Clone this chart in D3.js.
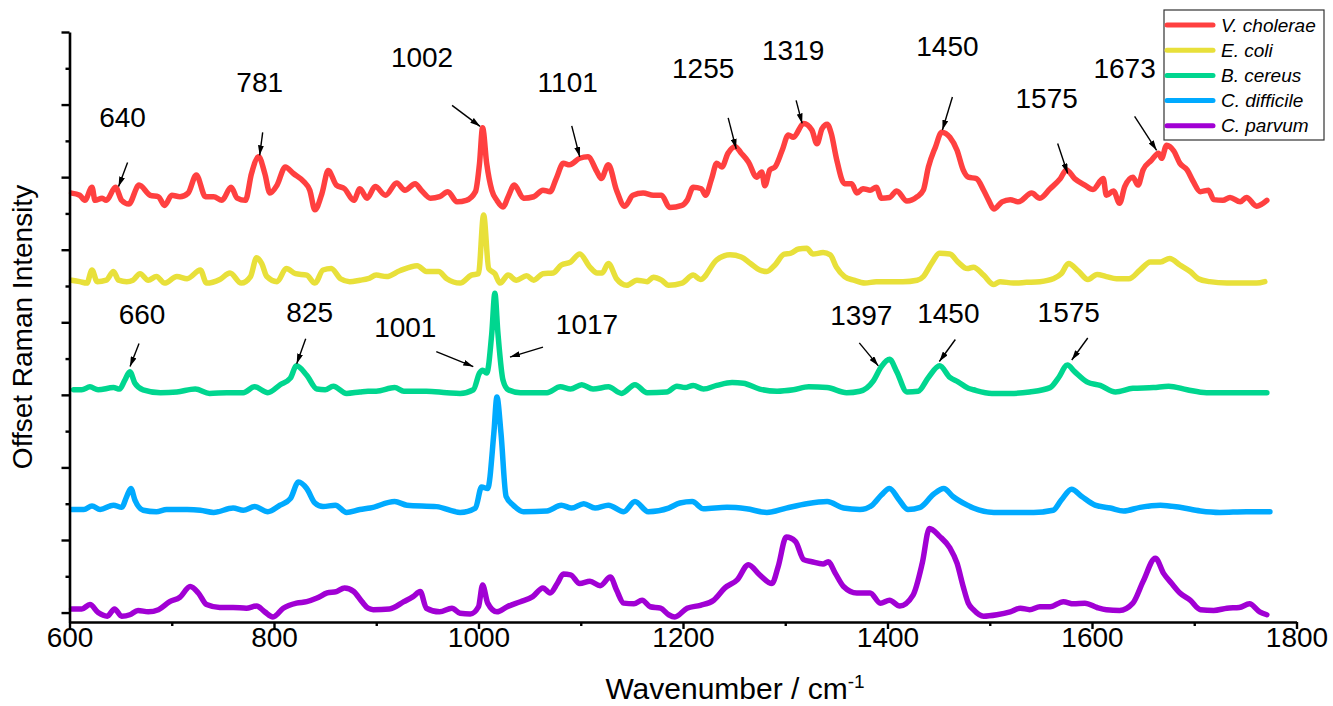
<!DOCTYPE html>
<html>
<head>
<meta charset="utf-8">
<script src="https://cdn.jsdelivr.net/npm/d3@7"></script>
<style>
body { margin: 0; background: #fff; }
text { font-family: "Liberation Sans", Arial, sans-serif; fill: #000; }
</style>
</head>
<body>
<div id="chart-area"></div>
<script>
// spectra: [wavenumber (cm-1), offset Raman intensity]
var cholerae = [[602,5.78],[610,5.75],[615,5.68],[622,5.86],[625,5.68],[632,5.71],[636,5.68],[645,5.86],[651,5.68],[658,5.63],[668,5.89],[679,5.75],[687,5.73],[693,5.61],[700,5.75],[708,5.73],[716,5.78],[724,6.03],[733,5.73],[741,5.73],[749,5.68],[758,5.86],[764,5.71],[772,5.68],[778,6.05],[785,6.28],[791,6.05],[796,5.78],[803,5.89],[811,6.14],[819,6.05],[829,5.94],[835,5.82],[840,5.55],[847,5.78],[853,6.09],[861,5.89],[869,5.84],[878,5.68],[884,5.84],[891,5.71],[899,5.87],[909,5.75],[920,5.92],[928,5.82],[938,5.91],[944,5.82],[953,5.71],[962,5.73],[970,5.80],[979,5.66],[988,5.68],[997,5.80],[1001,6.19],[1004,6.68],[1008,6.19],[1013,5.82],[1018,5.68],[1024,5.59],[1029,5.73],[1035,5.89],[1044,5.71],[1054,5.73],[1063,5.82],[1070,5.80],[1076,5.98],[1083,6.19],[1089,6.17],[1099,6.26],[1107,6.28],[1116,6.07],[1120,5.98],[1127,6.17],[1135,5.82],[1143,5.60],[1151,5.75],[1161,5.78],[1171,5.75],[1179,5.75],[1187,5.58],[1199,5.61],[1204,5.68],[1210,5.86],[1218,5.84],[1222,5.75],[1228,5.98],[1233,6.19],[1238,6.14],[1244,6.33],[1251,6.42],[1257,6.33],[1264,6.21],[1272,6.00],[1277,6.07],[1280,5.88],[1285,6.10],[1290,6.14],[1297,6.37],[1303,6.58],[1308,6.55],[1318,6.74],[1326,6.65],[1331,6.46],[1336,6.67],[1341,6.73],[1345,6.60],[1350,6.26],[1358,5.91],[1365,5.91],[1370,5.78],[1376,5.84],[1383,5.82],[1389,5.86],[1394,5.71],[1402,5.72],[1409,5.81],[1419,5.67],[1429,5.73],[1435,5.82],[1440,6.14],[1447,6.42],[1453,6.62],[1461,6.55],[1468,6.37],[1474,6.10],[1479,6.00],[1487,5.98],[1494,5.82],[1499,5.68],[1504,5.56],[1512,5.66],[1520,5.69],[1528,5.66],[1541,5.78],[1549,5.71],[1559,5.84],[1569,5.98],[1575,6.10],[1583,5.98],[1593,5.89],[1601,5.83],[1611,5.98],[1614,5.75],[1621,5.81],[1627,5.64],[1632,5.87],[1640,6.00],[1645,5.89],[1650,6.10],[1658,6.23],[1665,6.33],[1668,6.26],[1673,6.44],[1680,6.36],[1686,6.19],[1693,6.10],[1699,5.94],[1706,5.80],[1714,5.82],[1719,5.69],[1728,5.68],[1735,5.72],[1745,5.66],[1751,5.72],[1761,5.60],[1771,5.68]];

var coli = [[602,4.58],[610,4.56],[617,4.54],[622,4.72],[627,4.56],[636,4.58],[643,4.70],[648,4.58],[656,4.56],[662,4.58],[669,4.67],[677,4.58],[685,4.63],[693,4.54],[705,4.63],[715,4.60],[728,4.72],[734,4.54],[747,4.59],[757,4.68],[768,4.54],[777,4.63],[783,4.89],[788,4.81],[793,4.63],[803,4.56],[812,4.74],[821,4.67],[832,4.65],[840,4.54],[848,4.72],[856,4.74],[865,4.60],[874,4.56],[884,4.58],[892,4.60],[900,4.65],[910,4.63],[923,4.71],[940,4.78],[949,4.70],[961,4.70],[969,4.60],[982,4.54],[993,4.65],[1000,4.67],[1005,5.48],[1010,4.74],[1016,4.67],[1021,4.54],[1029,4.65],[1037,4.58],[1047,4.64],[1054,4.58],[1063,4.67],[1073,4.68],[1081,4.79],[1090,4.83],[1099,4.94],[1109,4.76],[1116,4.68],[1121,4.68],[1127,4.81],[1135,4.60],[1145,4.51],[1155,4.58],[1165,4.56],[1171,4.62],[1179,4.58],[1186,4.51],[1199,4.54],[1210,4.65],[1217,4.59],[1233,4.86],[1246,4.93],[1257,4.90],[1266,4.81],[1275,4.72],[1282,4.70],[1290,4.79],[1299,4.94],[1305,4.95],[1313,5.01],[1321,5.02],[1327,4.94],[1337,4.96],[1344,4.93],[1350,4.76],[1358,4.63],[1367,4.58],[1378,4.54],[1389,4.56],[1402,4.56],[1415,4.56],[1429,4.58],[1435,4.63],[1443,4.81],[1451,4.95],[1461,4.94],[1469,4.83],[1478,4.74],[1484,4.76],[1494,4.65],[1504,4.52],[1510,4.56],[1523,4.54],[1536,4.55],[1549,4.56],[1562,4.60],[1570,4.67],[1577,4.81],[1587,4.70],[1596,4.59],[1605,4.66],[1614,4.63],[1624,4.60],[1636,4.60],[1647,4.72],[1657,4.83],[1667,4.83],[1676,4.88],[1686,4.79],[1696,4.70],[1704,4.60],[1715,4.56],[1732,4.54],[1748,4.54],[1761,4.54],[1769,4.56]];

var cereus = [[604,3.07],[612,3.07],[620,3.11],[628,3.07],[643,3.10],[649,3.08],[654,3.20],[659,3.32],[664,3.16],[672,3.07],[689,3.03],[705,3.04],[723,3.08],[737,3.02],[754,3.03],[770,3.03],[781,3.11],[794,3.03],[806,3.14],[816,3.23],[822,3.40],[832,3.27],[842,3.08],[850,3.07],[858,3.12],[871,3.02],[884,3.04],[892,3.05],[900,3.05],[918,3.10],[927,3.05],[949,3.05],[969,3.03],[982,3.02],[995,3.07],[1001,3.30],[1004,3.34],[1008,3.30],[1013,3.85],[1016,4.40],[1019,3.85],[1024,3.20],[1029,3.07],[1041,3.03],[1067,3.03],[1080,3.11],[1090,3.08],[1101,3.14],[1112,3.08],[1127,3.11],[1140,3.02],[1153,3.14],[1165,3.03],[1184,3.04],[1194,3.12],[1202,3.10],[1210,3.13],[1220,3.08],[1233,3.13],[1248,3.17],[1259,3.16],[1275,3.08],[1292,3.05],[1308,3.07],[1323,3.11],[1341,3.10],[1360,3.03],[1373,3.05],[1386,3.19],[1394,3.39],[1402,3.49],[1409,3.32],[1419,3.04],[1430,3.05],[1440,3.24],[1451,3.40],[1461,3.24],[1469,3.18],[1479,3.09],[1484,3.07],[1502,3.02],[1520,3.02],[1539,3.04],[1559,3.10],[1567,3.23],[1576,3.41],[1583,3.32],[1595,3.18],[1608,3.13],[1623,3.04],[1640,3.09],[1660,3.10],[1675,3.12],[1693,3.07],[1712,3.03],[1738,3.03],[1771,3.03]];

var difficile = [[602,1.42],[614,1.42],[622,1.47],[630,1.42],[643,1.48],[651,1.45],[656,1.60],[660,1.71],[664,1.55],[672,1.41],[685,1.39],[695,1.42],[715,1.42],[728,1.41],[741,1.38],[760,1.44],[770,1.41],[781,1.46],[794,1.39],[806,1.48],[816,1.57],[824,1.80],[832,1.71],[840,1.51],[848,1.46],[860,1.48],[871,1.38],[884,1.42],[894,1.44],[918,1.53],[930,1.48],[959,1.46],[982,1.38],[997,1.44],[1003,1.73],[1009,1.71],[1015,2.47],[1018,2.97],[1022,2.47],[1027,1.60],[1034,1.48],[1044,1.39],[1067,1.40],[1081,1.48],[1091,1.44],[1103,1.50],[1114,1.44],[1127,1.48],[1142,1.39],[1153,1.53],[1166,1.39],[1186,1.44],[1197,1.51],[1209,1.53],[1220,1.43],[1243,1.45],[1262,1.43],[1282,1.38],[1301,1.44],[1321,1.50],[1341,1.53],[1357,1.44],[1373,1.42],[1385,1.48],[1394,1.62],[1402,1.71],[1411,1.56],[1420,1.42],[1432,1.45],[1445,1.63],[1455,1.71],[1464,1.60],[1478,1.48],[1484,1.44],[1504,1.38],[1523,1.38],[1543,1.38],[1562,1.41],[1570,1.55],[1580,1.70],[1590,1.60],[1603,1.48],[1618,1.44],[1631,1.40],[1647,1.45],[1667,1.48],[1686,1.45],[1706,1.40],[1725,1.38],[1751,1.39],[1774,1.39]];

var parvum = [[602,0.05],[612,0.05],[620,0.11],[628,0.00],[637,-0.05],[644,0.05],[651,-0.05],[659,-0.03],[667,0.03],[677,0.01],[687,0.04],[698,0.15],[708,0.21],[718,0.36],[726,0.27],[734,0.11],[747,0.07],[760,0.07],[773,0.06],[783,0.09],[791,0.01],[799,-0.06],[809,0.06],[822,0.13],[832,0.15],[842,0.20],[852,0.27],[861,0.29],[869,0.34],[878,0.29],[886,0.15],[892,0.06],[897,0.04],[913,0.05],[927,0.15],[936,0.22],[943,0.29],[949,0.06],[962,0.01],[974,0.06],[982,-0.01],[992,-0.02],[1000,0.08],[1004,0.38],[1009,0.13],[1018,0.01],[1028,0.08],[1041,0.15],[1053,0.22],[1063,0.34],[1070,0.27],[1077,0.40],[1083,0.53],[1090,0.52],[1099,0.40],[1109,0.43],[1119,0.37],[1129,0.49],[1135,0.31],[1142,0.13],[1152,0.12],[1160,0.17],[1168,0.08],[1178,0.06],[1186,-0.03],[1192,-0.06],[1204,0.06],[1217,0.10],[1230,0.17],[1241,0.34],[1253,0.45],[1264,0.66],[1275,0.52],[1287,0.40],[1293,0.63],[1301,1.04],[1310,0.98],[1318,0.73],[1326,0.70],[1337,0.67],[1342,0.70],[1349,0.54],[1357,0.36],[1370,0.27],[1383,0.27],[1393,0.13],[1402,0.17],[1412,0.09],[1425,0.24],[1434,0.68],[1441,1.16],[1451,1.05],[1461,0.89],[1468,0.68],[1474,0.36],[1479,0.13],[1484,0.04],[1494,-0.05],[1507,-0.03],[1520,0.01],[1530,0.06],[1539,0.04],[1549,0.08],[1559,0.08],[1572,0.15],[1582,0.12],[1593,0.13],[1605,0.07],[1614,0.04],[1627,0.03],[1640,0.13],[1650,0.43],[1662,0.75],[1670,0.54],[1678,0.40],[1686,0.27],[1696,0.17],[1706,0.04],[1719,0.03],[1732,0.06],[1744,0.07],[1754,0.12],[1764,0.01],[1771,-0.03]];

var seriesNames = ["V. cholerae", "E. coli", "B. cereus", "C. difficile", "C. parvum"];
var seriesColors = ["#ff4040", "#e8e03a", "#00d68f", "#00aaff", "#a100d4"];
var spectra = [cholerae, coli, cereus, difficile, parvum];

var xTicks = [600, 800, 1000, 1200, 1400, 1600, 1800];
var xMinorTicks = [700, 900, 1100, 1300, 1500, 1700];
var yTicks = [0, 1, 2, 3, 4, 5, 6, 7, 8];
var yMinorTicks = [0.5, 1.5, 2.5, 3.5, 4.5, 5.5, 6.5, 7.5];

// peak labels: text, wavenumber and intensity the arrow points at
var peakLabels = ["640", "781", "1002", "1101", "1255", "1319", "1450", "1575", "1673",
                  "660", "825", "1001", "1017", "1397", "1450", "1575"];
var peakWn = [648, 786, 1001.5, 1099, 1252, 1316.5, 1453.7, 1576.2, 1663.2,
              659.2, 822.2, 994.9, 1030.8, 1391, 1450.7, 1580.2];
var peakInt = [5.87, 6.30, 6.70, 6.28, 6.39, 6.74, 6.65, 6.05, 6.37,
               3.39, 3.43, 3.39, 3.52, 3.40, 3.46, 3.48];
// arrow tail offset and label offset (px) from the arrow head
var peakLayout = [[9,-24,4,-69],[3,-23,0,-73],[-28,-21,-58,-69],[-8,-31,-12,-75],[-8,-31,-33,-81],
                  [-6,-23,-9,-73],[10,-33,5,-84],[-10,-30,-21,-75],[-22,-34,-32,-82],
                  [9,-23,12,-52],[9,-25,13,-51],[-37,-15,-68,-39],[33,-10,77,-33],
                  [-19,-23,-17,-51],[16,-22,9,-48],[16,-22,-3,-48]];

var margin = {top: 32, right: 36.5, bottom: 84, left: 69.5};
var width = 1333 - margin.left - margin.right,
    height = 706 - margin.top - margin.bottom;

var svg = d3.select("#chart-area").append("svg")
    .attr("width", 1333)
    .attr("height", 706);

var g = svg.append("g")
    .attr("transform", "translate(" + margin.left + "," + margin.top + ")");

// Scales
var x = d3.scaleLinear().domain([600, 1800]).range([0, width]);
var y = d3.scaleLinear().domain([-0.13, 8]).range([height, 0]);

// arrow head marker
svg.append("defs").append("marker")
    .attr("id", "arrowhead")
    .attr("viewBox", "0 0 10 6")
    .attr("refX", 10)
    .attr("refY", 3)
    .attr("markerWidth", 10)
    .attr("markerHeight", 6)
    .attr("markerUnits", "userSpaceOnUse")
    .attr("orient", "auto")
    .append("path")
    .attr("d", "M0,0L10,3L0,6Z")
    .attr("fill", "#000");

// ---- spectra ----
var line = d3.line()
    .x(function(d) { return x(d[0]); })
    .y(function(d) { return y(d[1]); })
    .curve(d3.curveMonotoneX);

g.selectAll(".spectrum")
    .data(spectra)
    .enter()
    .append("path")
    .attr("class", "spectrum")
    .attr("d", line)
    .attr("fill", "none")
    .attr("stroke", function(d, i) { return seriesColors[i]; })
    .attr("stroke-width", 5.5)
    .attr("stroke-linejoin", "round")
    .attr("stroke-linecap", "round");

// ---- axes ----
function styleAxis(sel) {
    sel.select(".domain").attr("stroke", "#000").attr("stroke-width", 2.6);
    sel.selectAll(".tick line").attr("stroke", "#000").attr("stroke-width", 2.4);
}

var xAxisGroup = g.append("g")
    .attr("class", "x-axis axis")
    .attr("transform", "translate(0," + height + ")")
    .call(d3.axisBottom(x).tickValues(xTicks).tickSize(7).tickSizeOuter(0)
          .tickPadding(-2).tickFormat(d3.format("d")));
xAxisGroup.call(styleAxis);
xAxisGroup.selectAll(".tick text")
    .style("font-size", "28px")
    .style("font-family", "'Liberation Sans', Arial, sans-serif")
    .attr("fill", "#000");

var xMinorGroup = g.append("g")
    .attr("transform", "translate(0," + height + ")")
    .call(d3.axisBottom(x).tickValues(xMinorTicks).tickSize(4).tickFormat(""));
xMinorGroup.select(".domain").remove();
xMinorGroup.selectAll(".tick line").attr("stroke", "#000").attr("stroke-width", 2.4);

var yAxisGroup = g.append("g")
    .attr("class", "y-axis axis")
    .call(d3.axisLeft(y).tickValues(yTicks).tickSize(8).tickSizeOuter(0).tickFormat(""));
yAxisGroup.call(styleAxis);

var yMinorGroup = g.append("g")
    .call(d3.axisLeft(y).tickValues(yMinorTicks).tickSize(4).tickFormat(""));
yMinorGroup.select(".domain").remove();
yMinorGroup.selectAll(".tick line").attr("stroke", "#000").attr("stroke-width", 2.4);

// axis titles
var xTitle = svg.append("text")
    .attr("class", "axis-title")
    .attr("x", 735)
    .attr("y", 699)
    .attr("text-anchor", "middle")
    .style("font-size", "30px")
    .text("Wavenumber / cm");
xTitle.append("tspan")
    .attr("dy", -11)
    .style("font-size", "19px")
    .text("-1");

svg.append("text")
    .attr("class", "axis-title")
    .attr("transform", "translate(32," + 327 + ") rotate(-90)")
    .attr("text-anchor", "middle")
    .style("font-size", "28px")
    .text("Offset Raman Intensity");

// ---- peak annotations ----
var peaks = peakLabels.map(function(t, i) {
    return {label: t, wn: peakWn[i], v: peakInt[i], lay: peakLayout[i]};
});

var ann = g.selectAll(".peak")
    .data(peaks)
    .enter()
    .append("g")
    .attr("class", "peak");

ann.append("line")
    .attr("x1", function(d) { return x(d.wn) + d.lay[0]; })
    .attr("y1", function(d) { return y(d.v) + d.lay[1]; })
    .attr("x2", function(d) { return x(d.wn); })
    .attr("y2", function(d) { return y(d.v); })
    .attr("stroke", "#000")
    .attr("stroke-width", 1.4)
    .attr("marker-end", "url(#arrowhead)");

ann.append("text")
    .attr("x", function(d) { return x(d.wn) + d.lay[2]; })
    .attr("y", function(d) { return y(d.v) + d.lay[3]; })
    .attr("dy", "0.35em")
    .attr("text-anchor", "middle")
    .style("font-size", "28px")
    .text(function(d) { return d.label; });

// ---- legend ----
var legend = svg.append("g")
    .attr("class", "legend")
    .attr("transform", "translate(1164,10)");

legend.append("rect")
    .attr("width", 160)
    .attr("height", 130)
    .attr("fill", "#fff")
    .attr("stroke", "#333")
    .attr("stroke-width", 1.2);

var rows = legend.selectAll(".row")
    .data(seriesNames)
    .enter()
    .append("g")
    .attr("class", "row")
    .attr("transform", function(d, i) { return "translate(0," + (15 + i * 25.2) + ")"; });

rows.append("line")
    .attr("x1", 3)
    .attr("x2", 49)
    .attr("stroke", function(d, i) { return seriesColors[i]; })
    .attr("stroke-width", 5)
    .attr("stroke-linecap", "round");

rows.append("text")
    .attr("x", 57)
    .attr("dy", "0.35em")
    .style("font-size", "19px")
    .style("font-style", "italic")
    .text(function(d) { return d; });
</script>
</body>
</html>
